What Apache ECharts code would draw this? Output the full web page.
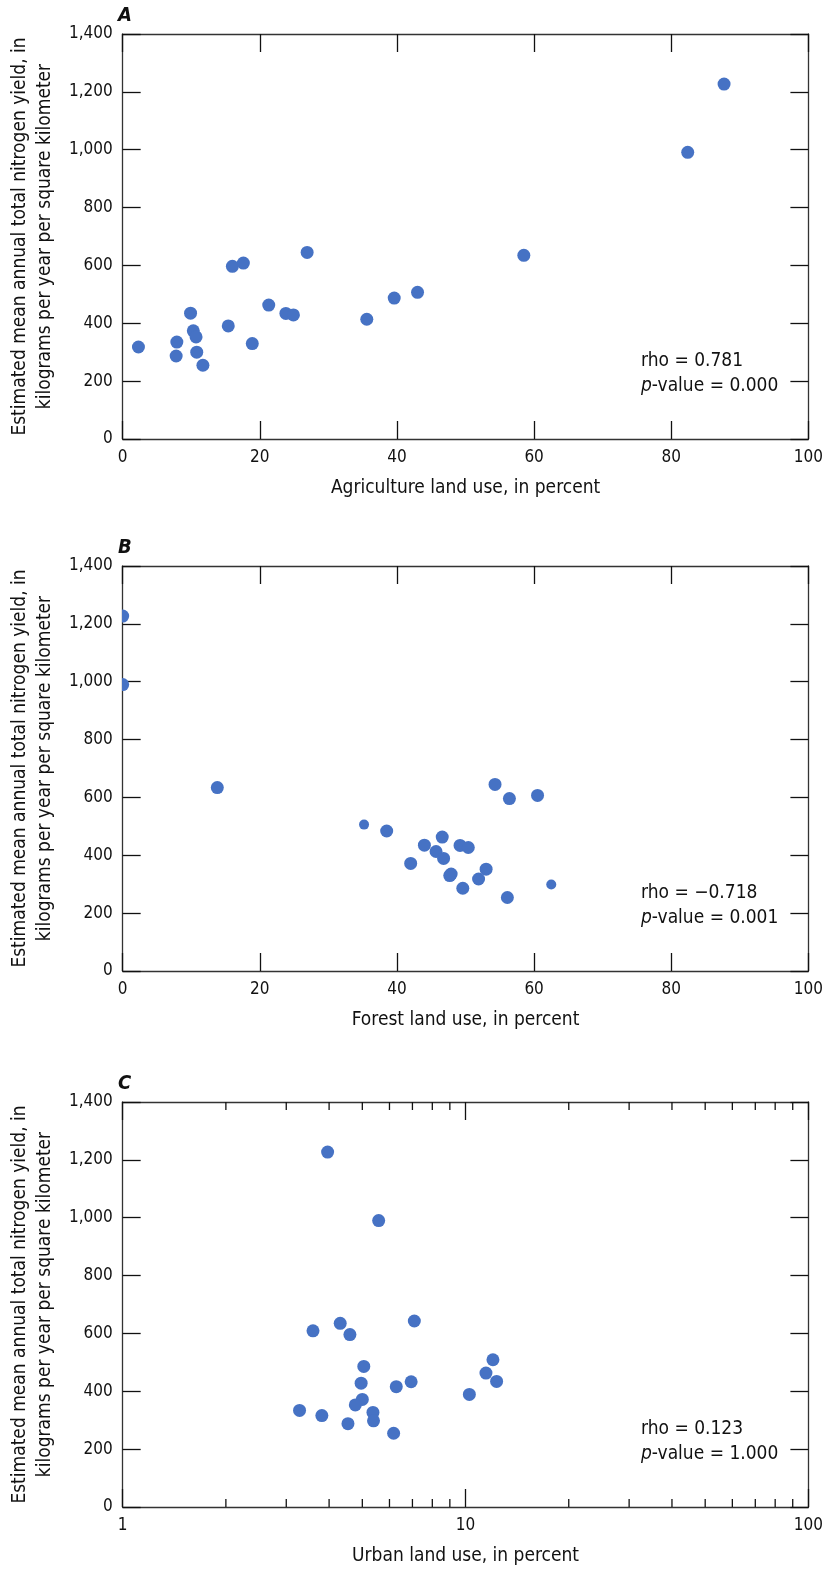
<!DOCTYPE html>
<html>
<head>
<meta charset="utf-8">
<script src="https://cdn.jsdelivr.net/npm/echarts@6/dist/echarts.min.js"></script>
<style>
html,body{margin:0;padding:0;background:#fff;}
#chart{width:826px;height:1570px;}
</style>
</head>
<body>
<div id="chart"></div>
<script>
// ---- data ----
const agriX = [2.3, 7.9, 7.8, 9.9, 10.3, 10.7, 10.8, 11.7, 15.4, 16.0, 17.6, 18.9, 21.3, 23.8, 24.9, 26.9, 35.6, 39.6, 43.0, 58.5, 82.4, 87.7];
const agriY = [318, 335, 287, 435, 374, 353, 300, 255, 391, 597, 608, 330, 463, 434, 429, 645, 414, 487, 507, 635, 991, 1227];

const forestX = [0, 0, 13.8, 38.5, 42.0, 44.0, 45.7, 46.6, 46.8, 47.7, 47.9, 49.2, 49.6, 50.4, 51.9, 53.0, 54.3, 56.1, 56.4, 60.5];
const forestY = [1227, 990, 634, 484, 372, 435, 413, 463, 389, 330, 335, 434, 286, 427, 318, 352, 645, 254, 596, 607];
const forestSmallX = [35.2, 62.5];
const forestSmallY = [506, 299];

const urbanX = [3.96, 5.58, 3.59, 4.31, 4.60, 7.09, 5.05, 4.96, 5.00, 4.77, 3.28, 3.81, 4.54, 5.37, 5.39, 6.17, 6.28, 6.94, 10.26, 11.47, 12.02, 12.32];
const urbanY = [1227, 990, 609, 635, 596, 643, 486, 428, 372, 353, 334, 316, 288, 327, 298, 255, 416, 433, 389, 463, 509, 434];
const urbanMinorTicks = [2, 3, 4, 5, 6, 7, 8, 9, 20, 30, 40, 50, 60, 70, 80, 90];

const panelLetters = ['A', 'B', 'C'];
const xTitles = ['Agriculture land use, in percent', 'Forest land use, in percent', 'Urban land use, in percent'];
const yTitle = 'Estimated mean annual total nitrogen yield, in\nkilograms per year per square kilometer';
const rhoValues = ['0.781', '\u22120.718', '0.123'];
const pValues = ['0.000', '0.001', '1.000'];

// ---- layout ----
const FONT = "'Liberation Sans Narrow','DejaVu Sans Condensed','Roboto Condensed',Roboto,sans-serif";
const COLOR = '#4672C4';
const LINE = '#333333';
const gridTops = [34, 566, 1102];
const gridH = 405;
const gridLeft = 117;
const gridRight = 13;

const pair = (xs, ys) => xs.map((x, i) => [x, ys[i]]);

const grids = gridTops.map(t => ({left: gridLeft, right: gridRight, top: t, height: gridH, containLabel: false}));

const xAxes = [];
const yAxes = [];
for (let i = 0; i < 3; i++) {
  const isLog = i === 2;
  const base = isLog ? {type: 'log', logBase: 10, min: 1, max: 100} : {type: 'value', min: 0, max: 100, interval: 20};
  xAxes.push(Object.assign({}, base, {
    gridIndex: i, position: 'bottom',
    name: xTitles[i], nameLocation: 'middle', nameGap: 40,
    nameTextStyle: {fontFamily: FONT, fontSize: 19, color: '#111'},
    axisLine: {show: true, onZero: false, lineStyle: {color: LINE, width: 1.3}},
    axisTick: {show: true, inside: true, length: 18, lineStyle: {color: '#111', width: 1.3}},
    axisLabel: {show: true, margin: 10, fontFamily: FONT, fontSize: 17, color: '#111'},
    splitLine: {show: false}
  }));
  xAxes.push(Object.assign({}, base, {
    gridIndex: i, position: 'top',
    axisLine: {show: true, onZero: false, lineStyle: {color: LINE, width: 1.3}},
    axisTick: {show: true, inside: true, length: 18, lineStyle: {color: '#111', width: 1.3}},
    axisLabel: {show: false},
    splitLine: {show: false}
  }));
  const ybase = {type: 'value', min: 0, max: 1400, interval: 200};
  yAxes.push(Object.assign({}, ybase, {
    gridIndex: i, position: 'left',
    name: yTitle, nameLocation: 'middle', nameGap: 62, nameRotate: 90,
    nameTextStyle: {fontFamily: FONT, fontSize: 19, color: '#111', lineHeight: 25, align: 'center'},
    axisLine: {show: true, onZero: false, lineStyle: {color: LINE, width: 1.3}},
    axisTick: {show: true, inside: true, length: 18, lineStyle: {color: '#111', width: 1.3}},
    axisLabel: {show: true, margin: 10, fontFamily: FONT, fontSize: 17, color: '#111',
      formatter: v => Number(v).toLocaleString('en-US')},
    splitLine: {show: false}
  }));
  yAxes.push(Object.assign({}, ybase, {
    gridIndex: i, position: 'right',
    axisLine: {show: true, onZero: false, lineStyle: {color: LINE, width: 1.3}},
    axisTick: {show: true, inside: true, length: 18, lineStyle: {color: '#111', width: 1.3}},
    axisLabel: {show: false},
    splitLine: {show: false}
  }));
}

const scatterBase = {type: 'scatter', symbol: 'circle', symbolSize: 13, itemStyle: {color: COLOR, opacity: 1}, clip: true, silent: true};

// circles drawn through the axes, clipped to the plot area (half dots at x = 0)
const clippedDots = (xIdx, yIdx, data, r) => ({
  type: 'custom', xAxisIndex: xIdx, yAxisIndex: yIdx, silent: true, clip: true,
  data: data,
  renderItem: (params, api) => {
    const p = api.coord([api.value(0), api.value(1)]);
    return {type: 'circle', shape: {cx: p[0], cy: p[1], r: r}, style: {fill: COLOR}};
  }
});

const series = [
  Object.assign({}, scatterBase, {xAxisIndex: 0, yAxisIndex: 0, data: pair(agriX, agriY)}),
  clippedDots(2, 2, pair(forestX, forestY), 6.5),
  clippedDots(2, 2, pair(forestSmallX, forestSmallY), 5),
  Object.assign({}, scatterBase, {xAxisIndex: 4, yAxisIndex: 4, data: pair(urbanX, urbanY)}),
  {
    type: 'custom', xAxisIndex: 4, yAxisIndex: 4, silent: true, clip: false,
    data: urbanMinorTicks.map(v => [v]),
    renderItem: (params, api) => {
      const v = api.value(0);
      const b = api.coord([v, 0]);
      const t = api.coord([v, 1400]);
      const st = {stroke: '#111', lineWidth: 1.3};
      return {type: 'group', children: [
        {type: 'line', shape: {x1: b[0], y1: b[1], x2: b[0], y2: b[1] - 8}, style: st},
        {type: 'line', shape: {x1: t[0], y1: t[1], x2: t[0], y2: t[1] + 8}, style: st}
      ]};
    }
  }
];

const graphics = [];
for (let i = 0; i < 3; i++) {
  graphics.push({
    type: 'text', left: gridLeft + 1, top: gridTops[i] - 28,
    style: {text: panelLetters[i], font: `italic bold 20px ${FONT}`, fill: '#111'}
  });
  graphics.push({
    type: 'text', left: 641, top: gridTops[i] + 318,
    style: {
      text: `{n|rho = ${rhoValues[i]}}\n{i|p}{n|-value = ${pValues[i]}}`,
      rich: {
        n: {fontFamily: FONT, fontSize: 19, lineHeight: 25, fill: '#111', color: '#111'},
        i: {fontFamily: FONT, fontSize: 19, lineHeight: 25, fontStyle: 'italic', fill: '#111', color: '#111'}
      },
      fill: '#111'
    }
  });
}

const chart = echarts.init(document.getElementById('chart'), null, {renderer: 'canvas', width: 826, height: 1570});
chart.setOption({
  backgroundColor: '#ffffff',
  animation: false,
  grid: grids,
  xAxis: xAxes,
  yAxis: yAxes,
  series: series,
  graphic: graphics
});
</script>
</body>
</html>
